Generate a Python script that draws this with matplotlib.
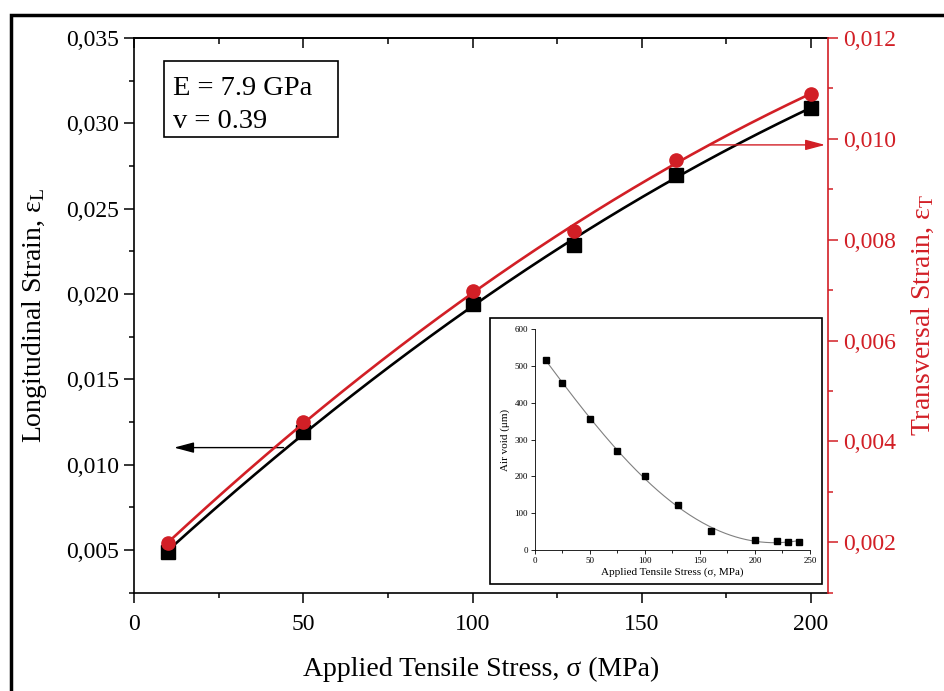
import numpy as np
import matplotlib
matplotlib.use("Agg")
import matplotlib.pyplot as plt
from matplotlib.patches import Rectangle
from matplotlib.ticker import MultipleLocator, FuncFormatter

plt.rcParams['font.family'] = ['Liberation Serif', 'DejaVu Serif']
plt.rcParams['mathtext.fontset'] = 'custom'
plt.rcParams['mathtext.rm'] = 'Liberation Serif'
plt.rcParams['mathtext.it'] = 'Liberation Serif:italic'

RED = '#d21f26'

# main chart data
stress = [10, 50, 100, 130, 160, 200]
long_strain = [0.0049, 0.0119, 0.0194, 0.0229, 0.0270, 0.0309]
trans_strain = [0.00198, 0.00438, 0.00699, 0.00818, 0.00958, 0.01089]

# inset data
inset_stress = [10, 25, 50, 75, 100, 130, 160, 200, 220, 230, 240]
air_void = [516, 453, 356, 269, 200, 121, 51, 27, 24, 23, 22]

E_text = "E = 7.9 GPa"
v_text = "v = 0.39"


def comma_fmt(decimals):
    return FuncFormatter(lambda val, pos: f"{val:.{decimals}f}".replace('.', ','))


fig = plt.figure(figsize=(9.44, 6.91), dpi=100)

# outer frame (only top and left edges visible in the original)
fig.patches.append(Rectangle((11 / 944, -0.2), 1.5, 1.2 - 15 / 691,
                             transform=fig.transFigure, fill=False,
                             edgecolor='black', linewidth=2.5, clip_on=False))

ax = fig.add_axes([0.142, 0.1423, 0.735, 0.8027])
ax2 = ax.twinx()

# smooth trend lines
xs = np.linspace(min(stress), max(stress), 200)
pL = np.polyfit(stress, long_strain, 2)
pT = np.polyfit(stress, trans_strain, 2)

ax.plot(xs, np.polyval(pL, xs), color='black', lw=1.9, zorder=2)
ax.plot(stress, long_strain, 's', color='black', ms=9.5, zorder=3)
ax2.plot(xs, np.polyval(pT, xs), color=RED, lw=1.9, zorder=2)
ax2.plot(stress, trans_strain, 'o', color=RED, ms=9.5, zorder=3)

ax.set_xlim(0, 205)
ax.set_ylim(0.0025, 0.035)
ax2.set_ylim(0.001, 0.012)

ax.xaxis.set_major_locator(MultipleLocator(50))
ax.xaxis.set_minor_locator(MultipleLocator(25))
ax.yaxis.set_major_locator(MultipleLocator(0.005))
ax.yaxis.set_minor_locator(MultipleLocator(0.0025))
ax.yaxis.set_major_formatter(comma_fmt(3))
ax2.yaxis.set_major_locator(MultipleLocator(0.002))
ax2.yaxis.set_minor_locator(MultipleLocator(0.001))
ax2.yaxis.set_major_formatter(comma_fmt(3))

ax.tick_params(which='major', direction='out', length=7, width=1.1, labelsize=17, pad=4)
ax.tick_params(axis='x', which='major', pad=8)
ax.tick_params(which='minor', direction='out', length=3.5, width=1.1)
ax2.tick_params(which='major', direction='out', length=7, width=1.1, labelsize=17,
                pad=4, colors=RED)
ax2.tick_params(which='minor', direction='out', length=3.5, width=1.1, colors=RED)

top = ax.secondary_xaxis('top')
top.xaxis.set_major_locator(MultipleLocator(50))
top.xaxis.set_minor_locator(MultipleLocator(25))
top.tick_params(which='major', direction='in', length=7, width=1.1, labeltop=False)
top.tick_params(which='minor', direction='in', length=4, width=1.1)
top.spines['top'].set_linewidth(1.2)

for s in ['left', 'bottom', 'top']:
    ax.spines[s].set_linewidth(1.2)
ax.spines['right'].set_visible(False)
for s in ['left', 'bottom', 'top']:
    ax2.spines[s].set_visible(False)
ax2.spines['right'].set_color(RED)
ax2.spines['right'].set_linewidth(1.2)

ax.set_xlabel("Applied Tensile Stress, σ (MPa)", fontsize=20, labelpad=16)
ax.set_ylabel(r"Longitudinal Strain, ε$_\mathrm{L}$", fontsize=20, labelpad=12)
ax2.set_ylabel(r"Transversal Strain, ε$_\mathrm{T}$", fontsize=20, color=RED, labelpad=10)

# text box with material constants
ax.add_patch(Rectangle((0.043, 0.822), 0.251, 0.137, transform=ax.transAxes,
                       fill=False, edgecolor='black', linewidth=1.2, zorder=5))
ax.text(0.056, 0.898, E_text, transform=ax.transAxes, fontsize=20.5,
        va='baseline', ha='left')
ax.text(0.056, 0.837, v_text, transform=ax.transAxes, fontsize=20.5,
        va='baseline', ha='left')

# arrows pointing at the relevant axis
ax.annotate('', xy=(11, 0.011), xytext=(45, 0.011),
            arrowprops=dict(arrowstyle='-|>,head_length=0.75,head_width=0.2',
                            color='black', lw=1.0, mutation_scale=16))
ax2.annotate('', xy=(205, 0.00988), xytext=(169, 0.00988),
             arrowprops=dict(arrowstyle='-|>,head_length=0.75,head_width=0.2',
                             color=RED, lw=1.0, mutation_scale=16))

# inset
fig.patches.append(Rectangle((0.519, 0.1548), 0.3517, 0.385, transform=fig.transFigure,
                             facecolor='white', edgecolor='black', linewidth=1.2,
                             zorder=4))
axin = fig.add_axes([0.5667, 0.204, 0.2913, 0.3198])
axin.set_zorder(5)
xi = np.linspace(min(inset_stress), max(inset_stress), 200)
pA = np.polyfit(inset_stress, air_void, 4)
axin.plot(xi, np.polyval(pA, xi), color='#808080', lw=0.8)
axin.plot(inset_stress, air_void, 's', color='black', ms=4)
axin.set_xlim(0, 250)
axin.set_ylim(0, 600)
axin.xaxis.set_major_locator(MultipleLocator(50))
axin.xaxis.set_minor_locator(MultipleLocator(25))
axin.yaxis.set_major_locator(MultipleLocator(100))
axin.tick_params(which='major', direction='out', length=3, width=0.6, labelsize=6.5, pad=2)
axin.tick_params(which='minor', direction='out', length=1.8, width=0.6)
axin.spines['top'].set_visible(False)
axin.spines['right'].set_visible(False)
for s in ['left', 'bottom']:
    axin.spines[s].set_linewidth(0.6)
axin.set_xlabel("Applied Tensile Stress (σ, MPa)", fontsize=8, labelpad=2)
axin.set_ylabel("Air void (μm)", fontsize=8, labelpad=3)

fig.savefig('out.png', dpi=100)
